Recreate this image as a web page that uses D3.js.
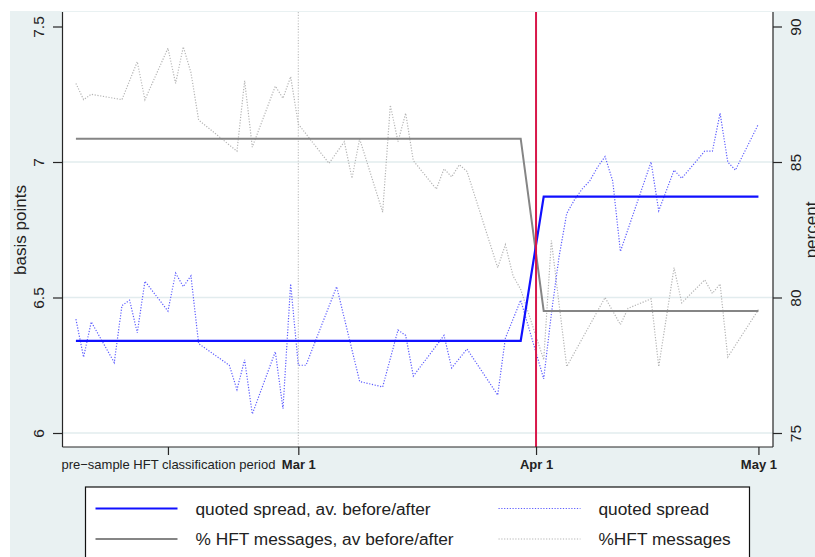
<!DOCTYPE html>
<html>
<head>
<meta charset="utf-8">
<script src="https://cdn.jsdelivr.net/npm/d3@7"></script>
<style>
  html, body { margin: 0; padding: 0; background: #ffffff; }
  svg { display: block; font-family: "Liberation Sans", Arial, Helvetica, sans-serif; }
</style>
</head>
<body>
<svg id="chart" width="815" height="557"></svg>
<script>
// Day index: 0 = Mar 1, 31 = Apr 1, 60 = end of sample ("May 1").
const spreadDays = [-29,-28,-27,-24,-23,-22,-21,-20,-17,-16,-15,-14,-13,-9,-8,-7,-6,-3,-2,-1,0,1,5,8,11,13,14,15,19,20,22,26,27,29,32,33,34,35,36,37,38,39,40,41,42,46,47,49,50,53,54,55,56,57,60];
const spreadValues = [6.42,6.28,6.41,6.26,6.47,6.49,6.37,6.56,6.45,6.59,6.54,6.58,6.33,6.25,6.16,6.27,6.07,6.30,6.09,6.55,6.25,6.25,6.54,6.19,6.17,6.38,6.36,6.21,6.36,6.24,6.31,6.14,6.35,6.49,6.20,6.44,6.65,6.81,6.86,6.90,6.93,6.98,7.02,6.93,6.67,7.00,6.82,6.97,6.94,7.04,7.04,7.18,7.00,6.97,7.14];

const hftDays = [-29,-28,-27,-23,-21,-20,-17,-16,-15,-14,-13,-8,-7,-6,-3,-2,-1,0,4,6,7,8,11,12,13,14,15,18,19,20,21,22,26,27,28,29,32,33,35,40,42,43,46,47,49,50,53,54,55,56,60];
const hftValues = [87.9,87.3,87.5,87.3,88.7,87.3,89.2,87.9,89.25,88.3,86.55,85.4,88.0,85.55,87.8,87.35,88.15,86.4,84.95,85.75,84.4,85.85,83.15,87.1,85.75,86.8,85.05,84.0,84.75,84.45,84.9,84.65,81.1,81.95,80.8,80.3,77.7,82.1,77.45,80.0,79.0,79.6,79.95,77.45,81.1,79.8,80.65,80.15,80.5,77.8,79.55];

// Averages before / after the Apr 1 event
const avgDays = [-29, 29, 32, 60];
const spreadAvg = [6.34, 6.34, 6.872, 6.872];
const hftAvg = [85.86, 85.86, 79.5, 79.5];

const eventDay = 31;
const sampleStartDay = 0;

const xTickDays = [-17, 0, 31, 60];
const xTickLabels = ["pre\u2212sample HFT classification period", "Mar 1", "Apr 1", "May 1"];
const leftTicks = [6, 6.5, 7, 7.5];
const leftTickLabels = ["6", "6.5", "7", "7.5"];
const rightTicks = [75, 80, 85, 90];
const rightTickLabels = ["75", "80", "85", "90"];

const legendLabels = ["quoted spread, av. before/after", "quoted spread", "% HFT messages, av before/after", "%HFT messages"];

// ---- layout ----
const W = 815, H = 557;
const plot = { left: 62.5, right: 773, top: 12, bottom: 447 };
const svg = d3.select("#chart");

const x = d3.scaleLinear().domain([-30.75, 61.9]).range([plot.left, plot.right]);
const yL = d3.scaleLinear().domain([6, 7.5]).range([433, 26.5]);
const yR = d3.scaleLinear().domain([75, 90]).range([433, 26.5]);

// outer background
svg.append("rect").attr("width", W).attr("height", H).attr("fill", "#ffffff");
svg.append("rect").attr("x", 10).attr("y", 11).attr("width", W - 10).attr("height", H - 11).attr("fill", "#e9f1f2");
// plot region
svg.append("rect").attr("x", plot.left).attr("y", plot.top)
  .attr("width", plot.right - plot.left).attr("height", plot.bottom - plot.top).attr("fill", "#ffffff");

// gridlines
svg.append("g").selectAll("line").data(leftTicks.filter(v => v < 7.5)).join("line")
  .attr("x1", plot.left).attr("x2", plot.right)
  .attr("y1", d => yL(d)).attr("y2", d => yL(d))
  .attr("stroke", "#e2ecee").attr("stroke-width", 1.3);

// Mar 1 reference line (dotted) and Apr 1 event line
svg.append("line").attr("x1", x(sampleStartDay)).attr("x2", x(sampleStartDay))
  .attr("y1", plot.top).attr("y2", plot.bottom)
  .attr("stroke", "#bdbdbd").attr("stroke-width", 1.1).attr("stroke-dasharray", "1.2,1.6");

const lineL = d3.line().x(d => x(d[0])).y(d => yL(d[1]));
const lineR = d3.line().x(d => x(d[0])).y(d => yR(d[1]));

// %HFT messages (dotted, right axis)
svg.append("path").datum(d3.zip(hftDays, hftValues)).attr("d", lineR)
  .attr("fill", "none").attr("stroke", "#b4b4b4").attr("stroke-width", 1.2).attr("stroke-dasharray", "1.2,1.6");
// quoted spread (dotted, left axis)
svg.append("path").datum(d3.zip(spreadDays, spreadValues)).attr("d", lineL)
  .attr("fill", "none").attr("stroke", "#5c5cff").attr("stroke-width", 1.2).attr("stroke-dasharray", "1.2,1.6");

// average lines
svg.append("path").datum(d3.zip(avgDays, hftAvg)).attr("d", lineR)
  .attr("fill", "none").attr("stroke", "#858585").attr("stroke-width", 2);
svg.append("path").datum(d3.zip(avgDays, spreadAvg)).attr("d", lineL)
  .attr("fill", "none").attr("stroke", "#1010ff").attr("stroke-width", 2.2);

svg.append("line").attr("x1", x(eventDay)).attr("x2", x(eventDay))
  .attr("y1", plot.top).attr("y2", plot.bottom)
  .attr("stroke", "#d8174a").attr("stroke-width", 2);

// frame
const frame = svg.append("g").attr("stroke", "#262626").attr("stroke-width", 1.2);
frame.append("line").attr("x1", plot.left).attr("x2", plot.left).attr("y1", plot.top).attr("y2", plot.bottom);
frame.append("line").attr("x1", plot.right).attr("x2", plot.right).attr("y1", plot.top).attr("y2", plot.bottom);
frame.append("line").attr("x1", plot.left).attr("x2", plot.right).attr("y1", plot.bottom).attr("y2", plot.bottom);

// left axis
const gL = svg.append("g").attr("transform", `translate(${plot.left},0)`)
  .call(d3.axisLeft(yL).tickValues(leftTicks).tickFormat((d, i) => leftTickLabels[i]).tickSize(9.5));
gL.select(".domain").remove();
gL.selectAll("line").attr("stroke", "#262626").attr("stroke-width", 1.2);
gL.selectAll("text").attr("x", null).attr("dy", null)
  .attr("transform", "translate(-19,0) rotate(-90)").attr("text-anchor", "middle")
  .attr("font-size", 15.5).attr("fill", "#222").attr("font-family", null);

// right axis
const gR = svg.append("g").attr("transform", `translate(${plot.right},0)`)
  .call(d3.axisRight(yR).tickValues(rightTicks).tickFormat((d, i) => rightTickLabels[i]).tickSize(9));
gR.select(".domain").remove();
gR.selectAll("line").attr("stroke", "#262626").attr("stroke-width", 1.2);
gR.selectAll("text").attr("x", null).attr("dy", null)
  .attr("transform", "translate(28,0) rotate(-90)").attr("text-anchor", "middle")
  .attr("font-size", 15.5).attr("fill", "#222").attr("font-family", null);

// bottom axis
const gB = svg.append("g").attr("transform", `translate(0,${plot.bottom})`)
  .call(d3.axisBottom(x).tickValues(xTickDays).tickFormat((d, i) => xTickLabels[i]).tickSize(8));
gB.select(".domain").remove();
gB.selectAll("line").attr("stroke", "#262626").attr("stroke-width", 1.2);
gB.selectAll("text").attr("y", 22).attr("dy", null)
  .attr("font-size", 13).attr("fill", "#222").attr("font-family", null)
  .attr("font-weight", (d, i) => i === 0 ? "normal" : "bold");

// axis titles
svg.append("text").attr("transform", "translate(26,230) rotate(-90)").attr("text-anchor", "middle")
  .attr("font-size", 17).attr("fill", "#222").text("basis points");
svg.append("text").attr("transform", "translate(817,230) rotate(-90)").attr("text-anchor", "middle")
  .attr("font-size", 17).attr("fill", "#222").text("percent");

// legend
const lg = svg.append("g");
lg.append("rect").attr("x", 85.5).attr("y", 487).attr("width", 664).attr("height", 100)
  .attr("fill", "#ffffff").attr("stroke", "#111").attr("stroke-width", 1.2);
const legendItems = [
  { col: 0, row: 0, stroke: "#1010ff", width: 2.2, dash: null },
  { col: 1, row: 0, stroke: "#5c5cff", width: 1.2, dash: "1.2,1.6" },
  { col: 0, row: 1, stroke: "#858585", width: 2, dash: null },
  { col: 1, row: 1, stroke: "#b4b4b4", width: 1.2, dash: "1.2,1.6" }
];
const colX = [95.5, 498.5];
const rowY = [508.5, 539];
legendItems.forEach((it, i) => {
  const x0 = colX[it.col], yy = rowY[it.row];
  lg.append("line").attr("x1", x0).attr("x2", x0 + 82).attr("y1", yy).attr("y2", yy)
    .attr("stroke", it.stroke).attr("stroke-width", it.width).attr("stroke-dasharray", it.dash);
  lg.append("text").attr("x", x0 + 100).attr("y", yy + 6).attr("font-size", 17.3).attr("fill", "#222")
    .text(legendLabels[i]);
});
</script>
</body>
</html>
